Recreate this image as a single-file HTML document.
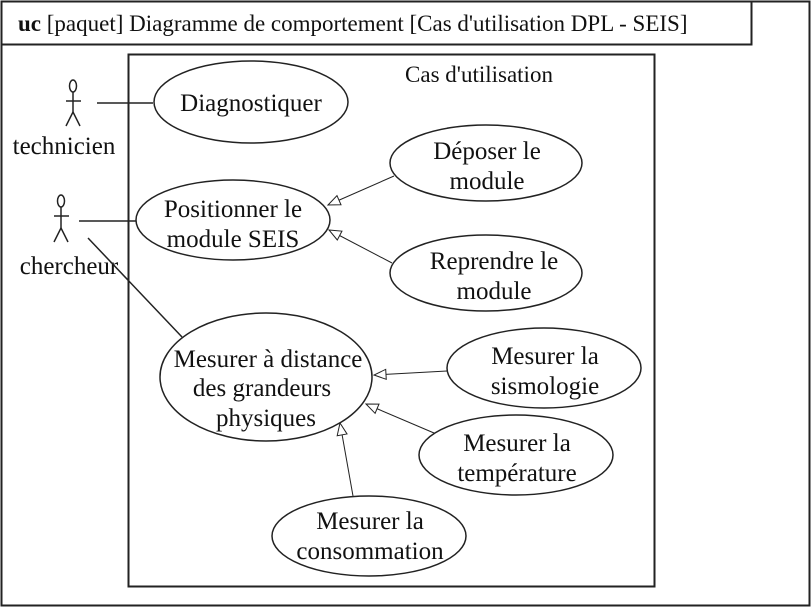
<!DOCTYPE html>
<html><head><meta charset="utf-8"><style>
body{margin:0;background:#fff;}
svg{display:block;font-family:"Liberation Serif",serif;}
text{fill:#111;}
</style></head><body>
<svg width="812" height="608" viewBox="0 0 812 608" xmlns="http://www.w3.org/2000/svg">
<defs>
<marker id="g" markerWidth="14" markerHeight="14" refX="13" refY="6" orient="auto" markerUnits="userSpaceOnUse">
<path d="M1,1 L13,6 L1,11 Z" fill="#fff" stroke="#222" stroke-width="1"/>
</marker>
</defs>
<rect x="1.5" y="1.5" width="808" height="604" fill="none" stroke="#222" stroke-width="2"/>
<rect x="1.5" y="1.5" width="750" height="43" fill="none" stroke="#222" stroke-width="2"/>
<text x="18" y="31" font-size="23"><tspan font-weight="bold">uc</tspan> [paquet] Diagramme de comportement [Cas d'utilisation DPL - SEIS]</text>
<rect x="128.5" y="54.5" width="526" height="532" fill="none" stroke="#222" stroke-width="2"/>
<text x="479" y="82" font-size="23" text-anchor="middle">Cas d'utilisation</text>

<g stroke="#222" stroke-width="1.5" fill="none">
<ellipse cx="73" cy="86" rx="3.5" ry="6"/>
<line x1="73" y1="92" x2="73" y2="112"/><line x1="66" y1="101" x2="81" y2="101"/>
<line x1="73" y1="112" x2="66" y2="126"/><line x1="73" y1="112" x2="80" y2="126"/>
<ellipse cx="61" cy="201" rx="3.5" ry="6"/>
<line x1="61" y1="207" x2="61" y2="228"/><line x1="54" y1="216" x2="69" y2="216"/>
<line x1="61" y1="228" x2="54" y2="242"/><line x1="61" y1="228" x2="68" y2="242"/>
</g>
<text x="64" y="154" font-size="25" text-anchor="middle">technicien</text>
<text x="69" y="274" font-size="25" text-anchor="middle">chercheur</text>

<g stroke="#222" stroke-width="1.5" fill="none">
<line x1="97" y1="103" x2="153" y2="103"/>
<line x1="79" y1="221" x2="136" y2="221"/>
<line x1="88" y1="238" x2="182" y2="337"/>
</g>
<g stroke="#222" stroke-width="1" fill="none" marker-end="url(#g)">
<line x1="394" y1="176" x2="328" y2="205"/>
<line x1="392" y1="263" x2="329" y2="230"/>
<line x1="447" y1="371" x2="374" y2="375"/>
<line x1="434" y1="433" x2="366" y2="404"/>
<line x1="353" y1="496" x2="340" y2="423"/>
</g>

<g stroke="#222" stroke-width="1.5" fill="#fff">
<ellipse cx="251" cy="102" rx="97" ry="41"/>
<ellipse cx="233" cy="220" rx="97" ry="40"/>
<ellipse cx="486" cy="163" rx="96" ry="38"/>
<ellipse cx="486" cy="273" rx="96" ry="38"/>
<ellipse cx="266" cy="377" rx="106" ry="64"/>
<ellipse cx="544" cy="368" rx="97" ry="40"/>
<ellipse cx="516" cy="455" rx="97" ry="40"/>
<ellipse cx="369" cy="536" rx="97" ry="40"/>
</g>
<g font-size="25" text-anchor="middle">
<text x="251" y="111">Diagnostiquer</text>
<text x="233" y="217">Positionner le</text><text x="233" y="247">module SEIS</text>
<text x="487" y="159">Déposer le</text><text x="487" y="189">module</text>
<text x="494" y="269">Reprendre le</text><text x="494" y="299">module</text>
<text x="268" y="367">Mesurer à distance</text><text x="262" y="396">des grandeurs</text><text x="266" y="426">physiques</text>
<text x="545" y="364">Mesurer la</text><text x="545" y="394">sismologie</text>
<text x="517" y="451">Mesurer la</text><text x="517" y="481">température</text>
<text x="370" y="529">Mesurer la</text><text x="370" y="559">consommation</text>
</g>
</svg>
</body></html>
